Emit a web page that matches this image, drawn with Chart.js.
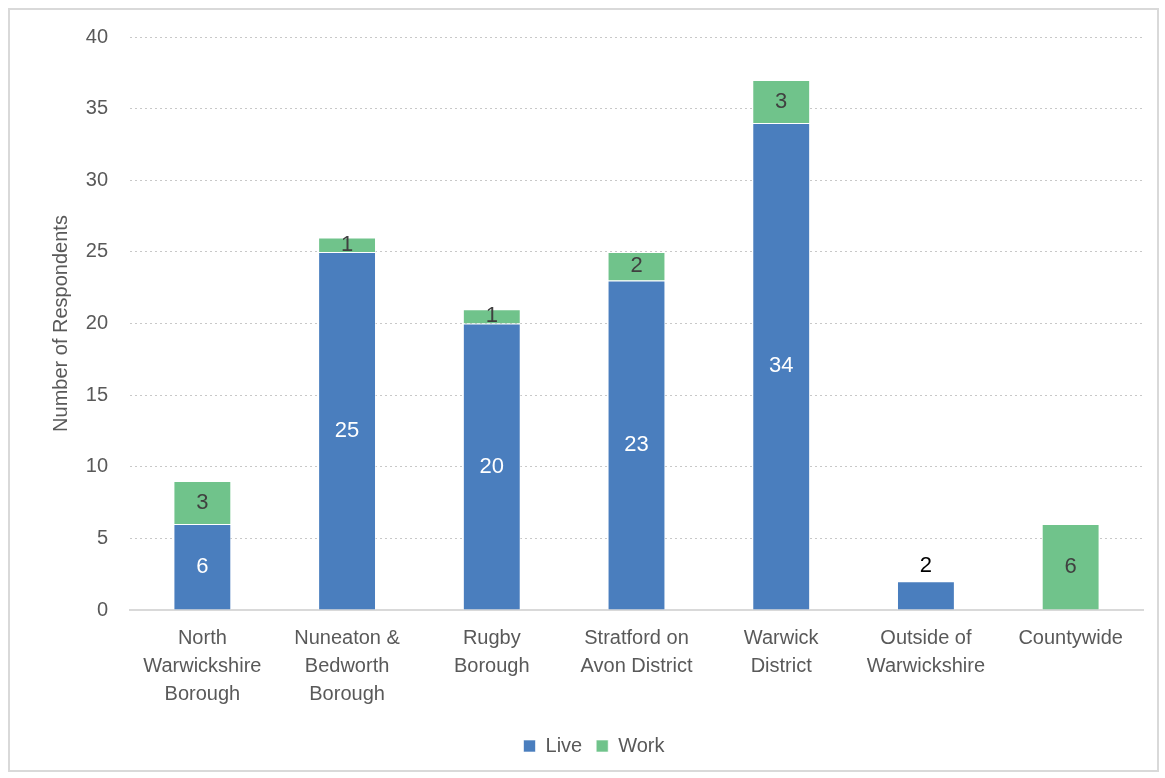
<!DOCTYPE html>
<html>
<head>
<meta charset="utf-8">
<script src="https://cdn.jsdelivr.net/npm/chart.js@4"></script>
<style>
  body { margin: 0; background: #fff; }
  #frame {
    position: absolute; left: 8px; top: 8px;
    width: 1147px; height: 760px;
    border: 2px solid #d9d9d9;
  }
  #wrap {
    position: absolute; left: 10px; top: 3px;
    width: 1147px; height: 767px;
  }
</style>
</head>
<body>
<div id="frame"></div>
<div id="wrap"><canvas id="chart"></canvas></div>
<script>
// categories and values
const categories = [
    ["North", "Warwickshire", "Borough"],
    ["Nuneaton &", "Bedworth", "Borough"],
    ["Rugby", "Borough"],
    ["Stratford on", "Avon District"],
    ["Warwick", "District"],
    ["Outside of", "Warwickshire"],
    "Countywide"
];
const liveValues = [6, 25, 20, 23, 34, 2, 0];
const workValues = [3, 1, 1, 2, 3, 0, 6];
const yTicks = [0, 5, 10, 15, 20, 25, 30, 35, 40];

const FONT = "'Liberation Sans', Arial, sans-serif";

// draws the value labels on the bars
const barLabels = {
    id: "barLabels",
    afterDatasetsDraw(chart) {
        const ctx = chart.ctx;
        ctx.save();
        ctx.font = "22px " + FONT;
        ctx.textAlign = "center";
        ctx.textBaseline = "middle";
        chart.data.datasets.forEach((ds, i) => {
            const meta = chart.getDatasetMeta(i);
            meta.data.forEach((bar, j) => {
                const v = ds.data[j];
                if (!v) return;
                const h = Math.abs(bar.base - bar.y);
                let y = (bar.y + bar.base) / 2;
                if (i === 0 && h < 35) {
                    ctx.fillStyle = "#000000";
                    y = bar.y - 15;
                } else {
                    ctx.fillStyle = i === 0 ? "#ffffff" : "#404040";
                }
                ctx.fillText(String(v), bar.x, y);
            });
        });
        ctx.restore();
    }
};

new Chart(document.getElementById("chart"), {
    type: "bar",
    data: {
        labels: categories,
        datasets: [{
            label: "Live",
            data: liveValues,
            backgroundColor: "#4a7ebe",
            borderColor: "rgba(255,255,255,0.6)",
            borderWidth: 1,
            barPercentage: 0.8,
            categoryPercentage: 0.5
        }, {
            label: "Work",
            data: workValues,
            backgroundColor: "#70c38b",
            borderColor: "rgba(255,255,255,0.6)",
            borderWidth: 1,
            barPercentage: 0.8,
            categoryPercentage: 0.5
        }]
    },
    options: {
        responsive: true,
        maintainAspectRatio: false,
        animation: false,
        layout: { padding: { left: 35, right: 14, top: 0, bottom: 4 } },
        plugins: {
            legend: {
                position: "bottom",
                labels: {
                    boxWidth: 12, boxHeight: 12,
                    color: "#595959",
                    font: { family: FONT, size: 20 },
                    padding: 14
                }
            },
            tooltip: { enabled: false }
        },
        scales: {
            x: {
                stacked: true,
                grid: { display: false, drawTicks: false },
                border: { display: true, color: "#d9d9d9", width: 2 },
                ticks: {
                    color: "#595959",
                    font: { family: FONT, size: 20, lineHeight: 1.4 },
                    padding: 14,
                    maxRotation: 0,
                    autoSkip: false
                }
            },
            y: {
                stacked: true,
                min: 0,
                max: 40,
                afterBuildTicks(axis) {
                    axis.ticks = yTicks.map(v => ({ value: v }));
                },
                afterFit(axis) {
                    axis.width = 85;
                },
                grid: {
                    color: ctx => ctx.tick.value === 0 ? "rgba(0,0,0,0)" : "#c8c8c8",
                    drawTicks: false,
                    lineWidth: 1
                },
                border: { display: false, dash: [2, 3] },
                ticks: {
                    color: "#595959",
                    font: { family: FONT, size: 20 },
                    padding: 22
                },
                title: {
                    display: true,
                    text: "Number of Respondents",
                    color: "#595959",
                    font: { family: FONT, size: 20 },
                    padding: { bottom: 8 }
                }
            }
        }
    },
    plugins: [barLabels]
});
</script>
</body>
</html>
